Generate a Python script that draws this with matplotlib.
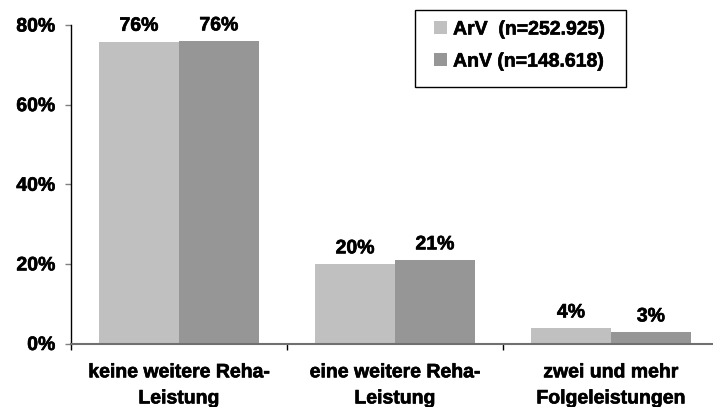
import numpy as np
import matplotlib.pyplot as plt
import matplotlib.patheffects as pe
from matplotlib.patches import Rectangle

# Daten
kategorien = ['keine weitere Reha-\nLeistung', 'eine weitere Reha-\nLeistung', 'zwei und mehr\nFolgeleistungen']
arv = [75.8, 19.9, 3.8]
anv = [75.9, 20.9, 2.8]
serien = ['ArV  (n=252.925)', 'AnV (n=148.618)']
y_ticks = [0, 20, 40, 60, 80]

farbe_arv = '#c0c0c0'
farbe_anv = '#969696'

plt.rcParams['font.family'] = ['Liberation Sans', 'DejaVu Sans']
plt.rcParams['font.weight'] = 'bold'

W, H = 713, 407
fig = plt.figure(figsize=(W / 100, H / 100), dpi=100)
ax = fig.add_axes([71 / W, 63.5 / H, 648 / W, 318.5 / H])

x = np.arange(len(kategorien))
breite = 0.37

b1 = ax.bar(x - breite / 2, arv, breite, color=farbe_arv, label=serien[0])
b2 = ax.bar(x + breite / 2, anv, breite, color=farbe_anv, label=serien[1])

# Werte über den Balken
for balken, werte in [(b1, arv), (b2, anv)]:
    for rect, w in zip(balken, werte):
        ax.annotate(f'{w:.0f}%', (rect.get_x() + rect.get_width() / 2, rect.get_height()),
                    xytext=(0, 5), textcoords='offset points',
                    ha='center', va='bottom', fontsize=14, fontweight='bold')

ax.set_xlim(-0.5, 2.5)
ax.set_ylim(0, 80)
ax.set_yticks(y_ticks)
ax.set_yticklabels([f'{t}%' for t in y_ticks], fontsize=14, fontweight='bold')
ax.tick_params(axis='y', length=4.3, width=1, color='#808080', pad=7)

# Kategorien: Beschriftung mittig, Striche an den Grenzen
ax.set_xticks(x)
ax.set_xticklabels(kategorien, fontsize=14, fontweight='bold', linespacing=1.7)
ax.tick_params(axis='x', which='major', length=0, pad=15)
ax.set_xticks([-0.5, 0.5, 1.5, 2.5], minor=True)
ax.tick_params(axis='x', which='minor', length=4.3, width=1, color='black')

for s in ['top', 'right']:
    ax.spines[s].set_visible(False)
ax.spines['left'].set_color('black')
ax.spines['left'].set_linewidth(1)
ax.spines['bottom'].set_color('#707070')
ax.spines['bottom'].set_linewidth(1.5)

# Legende ohne eigenen Rahmen, Rahmen separat gezeichnet
leg = fig.legend(loc='upper left', bbox_to_anchor=(434 / W, 1 - 21 / H),
                 bbox_transform=fig.transFigure, borderaxespad=0, borderpad=0,
                 frameon=False, prop={'size': 14, 'weight': 'bold'},
                 handlelength=0.68, handleheight=0.68, handletextpad=0.3,
                 labelspacing=0.75)
fig.patches.append(Rectangle((415 / W, 1 - 87 / H), 211 / W, 77 / H,
                             transform=fig.transFigure, fill=False,
                             edgecolor='black', linewidth=1))

# Schrift etwas kräftiger wie im Original
dick = [pe.withStroke(linewidth=0.45, foreground='black')]
for t in fig.findobj(match=lambda o: isinstance(o, plt.Text)):
    if t.get_text():
        t.set_path_effects(dick)

fig.savefig('out.png', dpi=100)
